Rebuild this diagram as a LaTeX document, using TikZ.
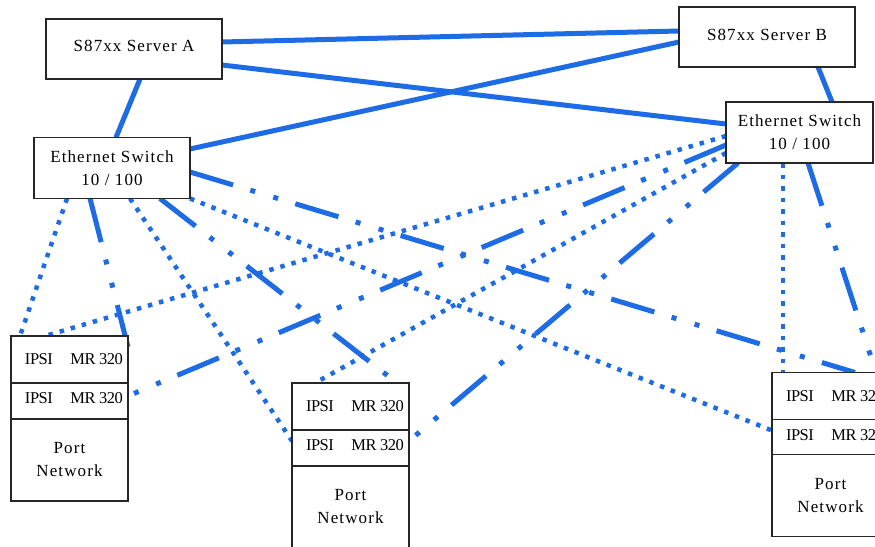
\documentclass[tikz,border=0pt]{standalone}
\usepackage{fontspec}
\setmainfont{Liberation Serif}
\newfontfamily\widefont[LetterSpace=6.5]{Liberation Serif}
\newfontfamily\tightfont[LetterSpace=-3]{Liberation Serif}
\usepackage{tikz}
\usetikzlibrary{positioning,backgrounds}
\usepackage{xcolor}
\definecolor{netblue}{RGB}{30,107,230}
\newcommand{\ipsirow}[1]{\raisebox{#1}{\makebox[107pt]{\hspace{9pt}IPSI\hfill MR~320}}}

\begin{document}
\begin{tikzpicture}[x=1pt,y=-1pt,line width=1.2pt,font=\fontsize{17}{23}\selectfont]
\tikzstyle{box}=[draw=black!85,fill=white,outer sep=0pt,inner sep=0pt,align=center]
\tikzstyle{server}=[box,minimum width=176pt,minimum height=60pt,font=\fontsize{17}{23}\selectfont\widefont]
\tikzstyle{switch}=[box,minimum height=61pt,font=\fontsize{17}{23}\selectfont\widefont]
\tikzstyle{port}=[box,minimum width=117pt,minimum height=82pt,font=\fontsize{17}{23}\selectfont\widefont]
\tikzstyle{row}=[box,minimum width=117pt,inner xsep=5pt,font=\fontsize{16.5}{20}\selectfont\tightfont]
\tikzstyle{link}=[netblue,line width=5pt]
\tikzstyle{dotlink}=[netblue,line width=4.5pt,dash pattern=on 4.5pt off 7pt]
\tikzstyle{dashlink}=[netblue,line width=5pt,dash pattern=on 45pt off 18pt on 5pt off 19pt on 5pt off 18pt]

\useasboundingbox (0,0) rectangle (875,546);
\clip (0,0) rectangle (875,546);

\node[server] (SA) at (134,49) {\raisebox{6pt}{S87xx Server A}};
\node[server] (SB) at (767,37) {\raisebox{5pt}{S87xx Server B}};
\node[switch,minimum width=156pt] (EA) at (112,168) {Ethernet Switch\\10 / 100};
\node[switch,minimum width=147pt] (EB) at (799.5,132.5) {Ethernet Switch\\10 / 100};

\node[port] (P1) at (69.5,460) {Port\\Network};
\node[row,minimum height=36pt,above=0pt of P1] (P1b) {\ipsirow{5pt}};
\node[row,minimum height=47pt,above=0pt of P1b] (P1a) {\ipsirow{-4.5pt}};

\node[port] (P2) at (350.5,507) {Port\\Network};
\node[row,minimum height=36pt,above=0pt of P2] (P2b) {\ipsirow{5pt}};
\node[row,minimum height=47pt,above=0pt of P2b] (P2a) {\ipsirow{-4.5pt}};

\node[port] (P3) at (830.5,495.5) {Port\\Network};
\node[row,minimum height=35pt,above=0pt of P3] (P3b) {\ipsirow{4.5pt}};
\node[row,minimum height=47pt,above=0pt of P3b] (P3a) {\ipsirow{-4.5pt}};

\begin{scope}[on background layer]
\fill[white] (0,0) rectangle (875,546);
\path
([yshift=7pt]SA.east)    edge [link] ([yshift=6pt]SB.west)
([yshift=-16pt]SA.east)  edge [link] ([yshift=8.5pt]EB.west)
([xshift=6pt]SA.south)   edge [link] ([xshift=4pt]EA.north)
([yshift=19pt]EA.east)   edge [link] ([yshift=-5pt]SB.west)
([xshift=51pt]SB.south)  edge [link] ([xshift=32.5pt]EB.north);

\path
([xshift=-45pt]EA.south) edge [dotlink]  ([xshift=9pt]P1a.north west)
([xshift=-22pt]EA.south) edge [dashlink] ([yshift=12.5pt]P1a.east)
([xshift=18pt]EA.south)  edge [dotlink]  ([yshift=7pt]P2b.west)
([xshift=48pt]EA.south)  edge [dashlink] ([xshift=-12pt]P2a.north east)
(EA.south east)          edge [dotlink]  ([yshift=6.5pt]P3b.west)
([yshift=-4pt]EA.east)   edge [dashlink] ([xshift=24.5pt]P3a.north);

\path
([yshift=-3.5pt]EB.west)   edge [dotlink]  ([xshift=-24.5pt]P1a.north)
([yshift=-12.5pt]EB.west)  edge [dashlink] ([yshift=5pt]P1b.east)
([yshift=-20.5pt]EB.west)  edge [dotlink]  ([xshift=23pt]P2a.north west)
([xshift=-61.5pt]EB.south) edge [dashlink] ([yshift=7pt]P2b.east)
([xshift=-16.5pt]EB.south) edge [dotlink]  ([xshift=-47.5pt]P3a.north)
([xshift=8.5pt]EB.south)   edge [dashlink] ([xshift=-13pt]P3a.north east);
\end{scope}
\end{tikzpicture}
\end{document}
